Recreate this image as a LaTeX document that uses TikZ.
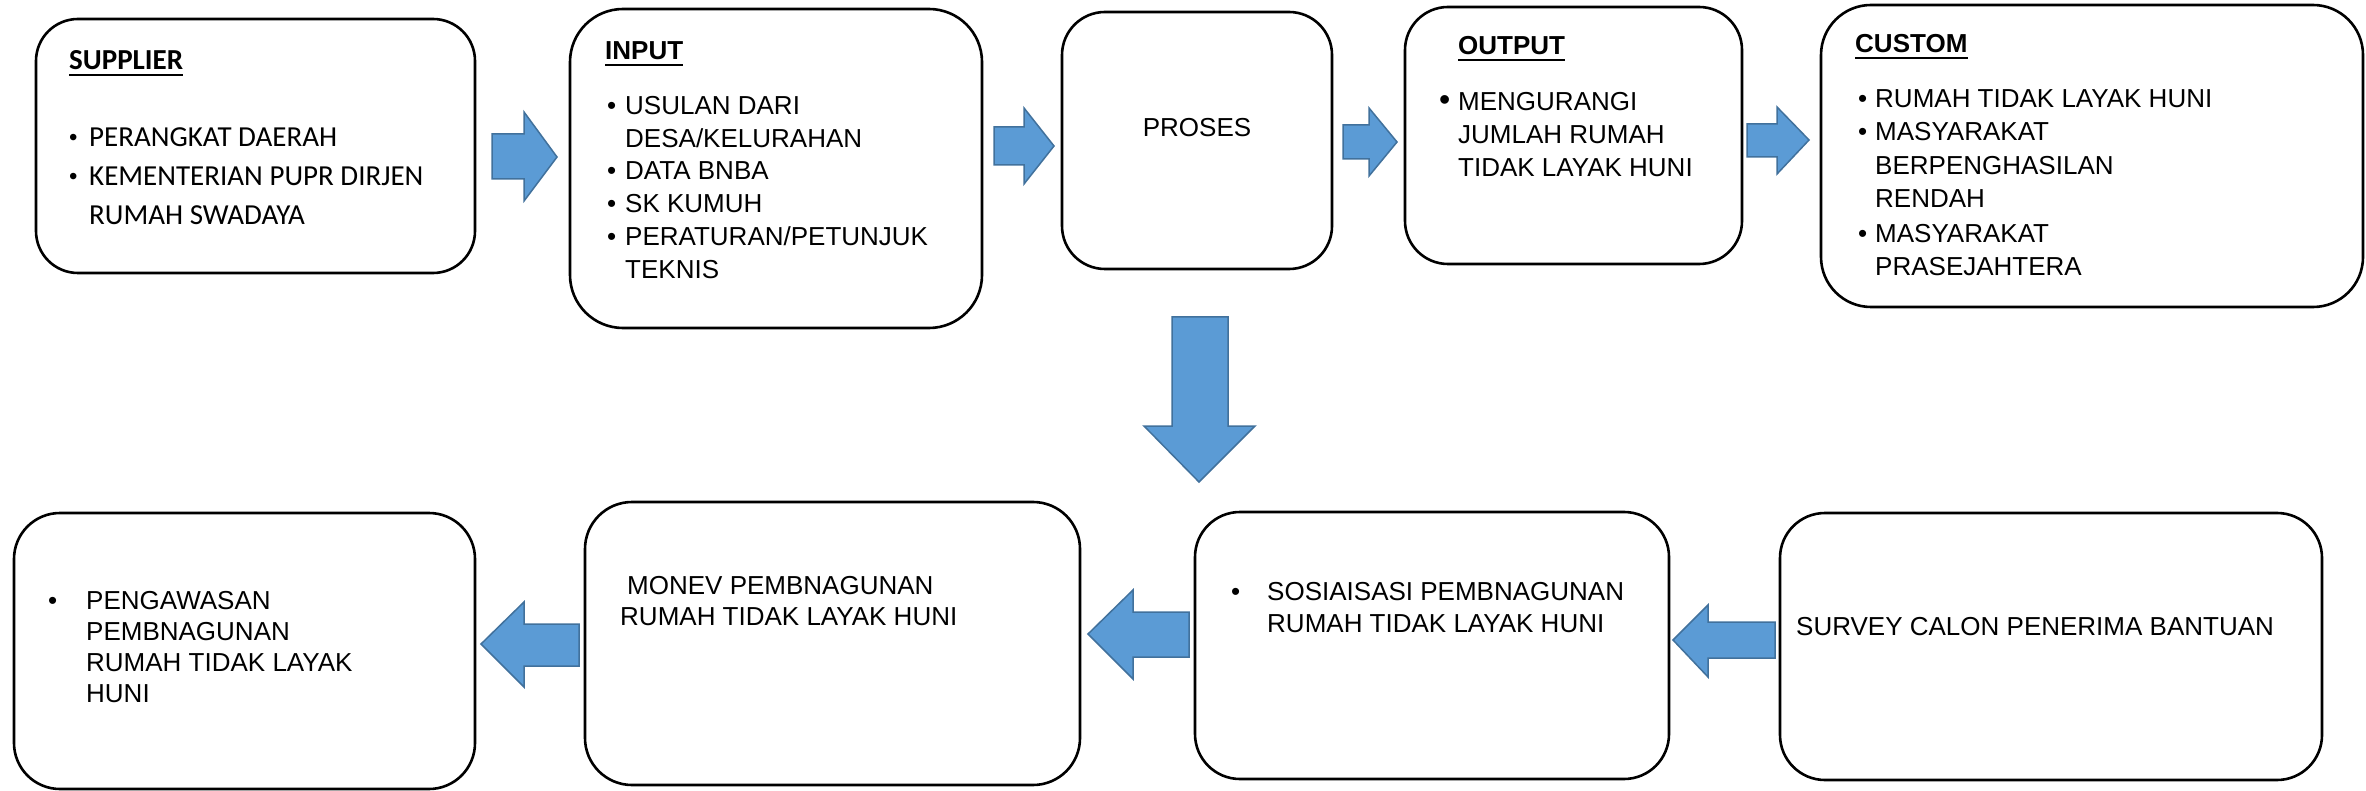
\documentclass[tikz,border=0pt]{standalone}
\usepackage{fontspec}
\newfontfamily\arialf{Liberation Sans}
\newfontfamily\calibf{Carlito}
\definecolor{arrowfill}{HTML}{5B9BD5}
\definecolor{arrowline}{HTML}{41719C}
\tikzset{
  box/.style={draw=black, line width=2.6pt, fill=white, rectangle, inner sep=0pt},
  txt/.style={anchor=base west, inner sep=0pt, font=\arialf\fontsize{26}{31}\selectfont},
  ctxt/.style={anchor=base west, inner sep=0pt, font=\calibf\fontsize{29}{35}\selectfont},
  cbul/.style={anchor=base west, inner sep=0pt, font=\arialf\fontsize{24}{31}\selectfont},
  blk/.style={fill=arrowfill, draw=arrowline, line width=1.5pt, line join=miter},
  uline/.style={line width=2.8pt},
}
\begin{document}
\begin{tikzpicture}[x=1pt,y=-1pt]
\useasboundingbox[fill=white] (0,0) rectangle (2366,791);

% ---------- top row boxes ----------
\node[box, minimum width=439pt, minimum height=254pt, rounded corners=42pt] (supplier) at (255.5,146) {};
\node[box, minimum width=412pt, minimum height=319pt, rounded corners=53pt] (input) at (776,168.5) {};
\node[box, minimum width=270pt, minimum height=257pt, rounded corners=43pt] (proses) at (1197,140.5) {};
\node[box, minimum width=337pt, minimum height=257pt, rounded corners=43pt] (output) at (1573.5,135.5) {};
\node[box, minimum width=542pt, minimum height=302pt, rounded corners=50pt] (custom) at (2092,156) {};

% ---------- bottom row boxes ----------
\node[box, minimum width=461pt, minimum height=276pt, rounded corners=46pt] (pengawasan) at (244.5,651) {};
\node[box, minimum width=495pt, minimum height=283pt, rounded corners=47pt] (monev) at (832.5,643.5) {};
\node[box, minimum width=474pt, minimum height=267pt, rounded corners=45pt] (sosialisasi) at (1432,645.5) {};
\node[box, minimum width=542pt, minimum height=267pt, rounded corners=45pt] (survey) at (2051,646.5) {};

% ---------- SUPPLIER text ----------
\node[ctxt, font=\calibf\bfseries\fontsize{29}{35}\selectfont] (tsup) at (69,70) {SUPPLIER};
\draw[uline] ([yshift=-5pt]tsup.base west) -- ([yshift=-5pt]tsup.base east);
\node[cbul] (bs1) at (69,146) {•};
\node[ctxt] (s1) at (89,147) {PERANGKAT DAERAH};
\node[cbul] (bs2) at (69,185) {•};
\node[ctxt] (s2) at (89,186) {KEMENTERIAN PUPR DIRJEN};
\node[ctxt] (s3) at (89,225) {RUMAH SWADAYA};

% ---------- INPUT text ----------
\node[txt, font=\arialf\bfseries\fontsize{26}{31}\selectfont] (tinp) at (605,60) {INPUT};
\draw[uline] ([yshift=-5pt]tinp.base west) -- ([yshift=-5pt]tinp.base east);
\node[txt] (bi1) at (607,115) {•};
\node[txt] (i1) at (625,115) {USULAN DARI};
\node[txt] (i2) at (625,148) {DESA/KELURAHAN};
\node[txt] (bi3) at (607,180) {•};
\node[txt] (i3) at (625,180) {DATA BNBA};
\node[txt] (bi4) at (607,213) {•};
\node[txt] (i4) at (625,213) {SK KUMUH};
\node[txt] (bi5) at (607,246) {•};
\node[txt] (i5) at (625,246) {PERATURAN/PETUNJUK};
\node[txt] (i6) at (625,279) {TEKNIS};

% ---------- PROSES text ----------
\node[txt, anchor=base] (tpro) at (1197,137) {PROSES};

% ---------- OUTPUT text ----------
\node[txt, font=\arialf\bfseries\fontsize{26}{31}\selectfont] (tout) at (1458,55) {OUTPUT};
\draw[uline] ([yshift=-5pt]tout.base west) -- ([yshift=-5pt]tout.base east);
\node[txt, font=\arialf\fontsize{32}{31}\selectfont] (bo1) at (1439,111) {•};
\node[txt] (o1) at (1458,111) {MENGURANGI};
\node[txt] (o2) at (1458,144) {JUMLAH RUMAH};
\node[txt] (o3) at (1458,177) {TIDAK LAYAK HUNI};

% ---------- CUSTOM text ----------
\node[txt, font=\arialf\bfseries\fontsize{26}{31}\selectfont] (tcus) at (1855,53) {CUSTOM};
\draw[uline] ([yshift=-5pt]tcus.base west) -- ([yshift=-5pt]tcus.base east);
\node[txt] (bc1) at (1858,108) {•};
\node[txt] (c1) at (1875,108) {RUMAH TIDAK LAYAK HUNI};
\node[txt] (bc2) at (1858,141) {•};
\node[txt] (c2) at (1875,141) {MASYARAKAT};
\node[txt] (c3) at (1875,175) {BERPENGHASILAN};
\node[txt] (c4) at (1875,208) {RENDAH};
\node[txt] (bc5) at (1858,243) {•};
\node[txt] (c5) at (1875,243) {MASYARAKAT};
\node[txt] (c6) at (1875,276) {PRASEJAHTERA};

% ---------- bottom row text ----------
\node[txt] (bp1) at (48,609) {•};
\node[txt] (p1) at (86,609) {PENGAWASAN};
\node[txt] (p2) at (86,640) {PEMBNAGUNAN};
\node[txt] (p3) at (86,671) {RUMAH TIDAK LAYAK};
\node[txt] (p4) at (86,702) {HUNI};

\node[txt] (m1) at (627,594) {MONEV PEMBNAGUNAN};
\node[txt] (m2) at (620,625) {RUMAH TIDAK LAYAK HUNI};

\node[txt] (bso1) at (1231,600) {•};
\node[txt] (so1) at (1267,600) {SOSIAISASI PEMBNAGUNAN};
\node[txt] (so2) at (1267,632) {RUMAH TIDAK LAYAK HUNI};

\node[txt] (sv1) at (1796,635) {SURVEY CALON PENERIMA BANTUAN};

% ---------- block arrows ----------
% supplier -> input
\draw[blk] (492,134) -- (524,134) -- (524,112) -- (557,157) -- (524,201) -- (524,179) -- (492,179) -- cycle;
% input -> proses
\draw[blk] (994,127) -- (1024,127) -- (1024,108) -- (1054,146) -- (1024,184) -- (1024,165) -- (994,165) -- cycle;
% proses -> output
\draw[blk] (1343,125) -- (1369,125) -- (1369,108) -- (1397,142) -- (1369,176) -- (1369,159) -- (1343,159) -- cycle;
% output -> custom
\draw[blk] (1747,124) -- (1777,124) -- (1777,107) -- (1809,140) -- (1777,174) -- (1777,157) -- (1747,157) -- cycle;
% down arrow
\draw[blk] (1172,317) -- (1228,317) -- (1228,426) -- (1255,426) -- (1199,482) -- (1144,426) -- (1172,426) -- cycle;
% survey -> sosialisasi
\draw[blk] (1775,622) -- (1708,622) -- (1708,605) -- (1673,640) -- (1708,677) -- (1708,658) -- (1775,658) -- cycle;
% sosialisasi -> monev
\draw[blk] (1189,612) -- (1133,612) -- (1133,590) -- (1088,634) -- (1133,679) -- (1133,657) -- (1189,657) -- cycle;
% monev -> pengawasan
\draw[blk] (579,624) -- (524,624) -- (524,602) -- (481,644) -- (524,687) -- (524,666) -- (579,666) -- cycle;
\end{tikzpicture}
\end{document}
